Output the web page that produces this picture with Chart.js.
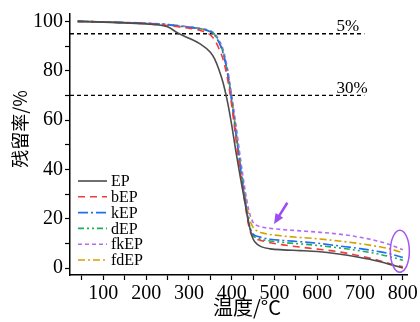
<!DOCTYPE html>
<html>
<head>
<meta charset="utf-8">
<script src="https://cdn.jsdelivr.net/npm/chart.js@4"></script>
<style>
  body { margin: 0; background: #fff; }
  #tga { display: block; }
</style>
</head>
<body>
<canvas id="tga" width="420" height="322"></canvas>
<script>
// temperature (°C) and residual mass (%)
const temps = [40, 100, 150, 200, 250, 275, 300, 325, 350, 360, 370, 380, 390, 400, 410, 420, 430, 440, 450, 460, 470, 490, 520, 560, 600, 650, 700, 740, 770, 800];
const EP   = [100, 99.7, 99.4, 99.0, 97.8, 95.2, 93.2, 91.0, 87.5, 84.8, 80.5, 75, 67.5, 58, 47, 37, 27.5, 18, 11.8, 9.6, 8.6, 7.8, 7.4, 7.1, 6.7, 5.7, 4.3, 2.9, 1.5, 0];
const bEP  = [100, 99.8, 99.4, 99.0, 98.3, 97.8, 97.2, 96.4, 94.5, 92.5, 89, 84.5, 77, 66, 52, 39, 27.5, 17, 12.3, 11.6, 11.1, 10.3, 9.4, 8.5, 7.7, 6.6, 4.9, 3.3, 1.8, 0.5];
const kEP  = [100, 99.8, 99.5, 99.2, 98.6, 98.1, 97.6, 97.0, 95.8, 94.5, 91.5, 87, 79, 67.5, 54, 41, 29, 18, 13.8, 12.9, 12.4, 11.7, 11.2, 10.7, 10.1, 9.0, 7.9, 6.8, 5.8, 4.3];
const dEP  = [100, 99.8, 99.5, 99.2, 98.7, 98.2, 97.7, 97.1, 96.0, 94.8, 92, 87.5, 79.5, 68.5, 55, 42, 29.5, 18.5, 13.2, 12.2, 11.6, 11.0, 10.4, 9.8, 9.2, 8.2, 7.0, 5.8, 4.6, 3.2];
const fkEP = [100, 99.8, 99.6, 99.3, 98.8, 98.3, 97.8, 97.2, 96.2, 95, 92.5, 88.5, 81, 70, 58, 45, 33, 23.5, 18.5, 17.2, 16.6, 16.1, 15.6, 15.1, 14.6, 13.8, 12.5, 11.0, 9.5, 7.4];
const fdEP = [100, 99.8, 99.5, 99.2, 98.7, 98.2, 97.7, 97.1, 95.9, 94.6, 91.8, 87.5, 79.5, 68.5, 55.5, 42.5, 31, 21, 16.5, 15.0, 14.3, 13.6, 13.0, 12.4, 11.9, 11.0, 9.9, 8.8, 7.8, 6.2];

const xTicks = [50, 100, 150, 200, 250, 300, 350, 400, 450, 500, 550, 600, 650, 700, 750, 800];
const yTicks = [0, 10, 20, 30, 40, 50, 60, 70, 80, 90, 100];

// dashed guide lines (5% and 30% mass loss)
const refLevels = [95, 70];
const refLabels = ['5%', '30%'];
const refSpan = [22, 710];

const xTitle = '温度/°C';
const yTitle = '残留率/%';

const serif = '"Liberation Serif", "DejaVu Serif", serif';
const cjk = '"Noto Sans CJK SC", sans-serif';

const styles = [
  { name: 'EP',   data: EP,   color: '#4d4d4d', dash: [] },
  { name: 'bEP',  data: bEP,  color: '#f03c3c', dash: [7, 5] },
  { name: 'kEP',  data: kEP,  color: '#1f6ff0', dash: [10, 3, 2, 3] },
  { name: 'dEP',  data: dEP,  color: '#1fae5a', dash: [6, 3, 2, 3, 2, 3] },
  { name: 'fkEP', data: fkEP, color: '#b26cf2', dash: [4, 3] },
  { name: 'fdEP', data: fdEP, color: '#d6a000', dash: [7, 3, 2, 3] }
];

const datasets = styles.map(s => ({
  label: s.name,
  data: temps.map((t, i) => ({ x: t, y: s.data[i] })),
  borderColor: s.color,
  borderDash: s.dash,
  borderWidth: 1.6,
  pointRadius: 0,
  fill: false,
  cubicInterpolationMode: 'monotone'
}));

refLevels.forEach(lv => {
  datasets.push({
    label: 'ref',
    data: refSpan.map(x => ({ x: x, y: lv })),
    borderColor: '#000',
    borderDash: [4, 3],
    borderWidth: 1.4,
    pointRadius: 0,
    fill: false
  });
});

// axis titles, legend, guide labels, arrow and ellipse drawn on top
const overlay = {
  id: 'overlay',
  afterDraw(chart) {
    const ctx = chart.ctx;
    const xs = chart.scales.x, ys = chart.scales.y;
    ctx.save();

    // axis titles
    ctx.fillStyle = '#000';
    ctx.textAlign = 'center';
    ctx.textBaseline = 'middle';
    ctx.font = '20px ' + cjk;
    ctx.fillText(xTitle, 247, 307);
    ctx.save();
    ctx.translate(20, 129);
    ctx.rotate(-Math.PI / 2);
    ctx.font = '18px ' + cjk;
    ctx.fillText(yTitle, 0, 0);
    ctx.restore();

    // guide labels
    ctx.font = '17px ' + serif;
    ctx.textAlign = 'left';
    ctx.textBaseline = 'alphabetic';
    refLevels.forEach((lv, i) => {
      ctx.fillText(refLabels[i], xs.getPixelForValue(645), ys.getPixelForValue(lv) - 2.5);
    });

    // legend
    ctx.font = '16px ' + serif;
    ctx.textBaseline = 'middle';
    styles.forEach((s, i) => {
      const y = 181 + i * 15.8;
      ctx.beginPath();
      ctx.setLineDash(s.dash);
      ctx.strokeStyle = s.color;
      ctx.lineWidth = 1.6;
      ctx.moveTo(78, y);
      ctx.lineTo(107, y);
      ctx.stroke();
      ctx.setLineDash([]);
      ctx.fillStyle = '#000';
      ctx.fillText(s.name, 111, y + 1);
    });

    // arrow
    const ax0 = xs.getPixelForValue(530), ay0 = ys.getPixelForValue(26.5);
    const ax1 = xs.getPixelForValue(499), ay1 = ys.getPixelForValue(17.9);
    const ang = Math.atan2(ay1 - ay0, ax1 - ax0);
    ctx.strokeStyle = '#9b4cf2';
    ctx.fillStyle = '#9b4cf2';
    ctx.lineWidth = 2.5;
    ctx.beginPath();
    ctx.moveTo(ax0, ay0);
    ctx.lineTo(ax1 - 6 * Math.cos(ang), ay1 - 6 * Math.sin(ang));
    ctx.stroke();
    ctx.beginPath();
    ctx.moveTo(ax1, ay1);
    ctx.lineTo(ax1 - 10 * Math.cos(ang) + 4.5 * Math.sin(ang), ay1 - 10 * Math.sin(ang) - 4.5 * Math.cos(ang));
    ctx.lineTo(ax1 - 10 * Math.cos(ang) - 4.5 * Math.sin(ang), ay1 - 10 * Math.sin(ang) + 4.5 * Math.cos(ang));
    ctx.closePath();
    ctx.fill();

    // ellipse around the 800 °C residues
    ctx.lineWidth = 1.5;
    ctx.strokeStyle = '#a456f2';
    ctx.beginPath();
    ctx.ellipse(xs.getPixelForValue(793), ys.getPixelForValue(6.8), 9.5, 21, 0, 0, Math.PI * 2);
    ctx.stroke();

    ctx.restore();
  }
};

new Chart(document.getElementById('tga'), {
  type: 'line',
  data: { datasets: datasets },
  options: {
    responsive: false,
    animation: false,
    layout: { padding: { left: 0, right: 10, top: 10, bottom: 0 } },
    plugins: { legend: { display: false }, tooltip: { enabled: false } },
    scales: {
      x: {
        type: 'linear',
        min: 22,
        max: 812,
        afterFit: s => { s.height = 47; },
        afterBuildTicks: s => { s.ticks = xTicks.map(v => ({ value: v })); },
        grid: { drawOnChartArea: false, tickLength: 5, color: '#000', tickWidth: 1.2 },
        border: { color: '#000', width: 1.5 },
        ticks: {
          autoSkip: false, maxRotation: 0, padding: 2, color: '#000',
          font: { family: serif, size: 20 },
          callback: v => (v % 100 === 0 ? v : '')
        }
      },
      y: {
        min: -2.8,
        max: 103,
        afterFit: s => { s.width = 70; },
        afterBuildTicks: s => { s.ticks = yTicks.map(v => ({ value: v })); },
        grid: { drawOnChartArea: false, tickLength: 5, color: '#000', tickWidth: 1.2 },
        border: { color: '#000', width: 1.5 },
        ticks: {
          autoSkip: false, padding: 2, color: '#000',
          font: { family: serif, size: 20 },
          callback: v => (v % 20 === 0 ? v : '')
        }
      }
    }
  },
  plugins: [overlay]
});
</script>
</body>
</html>
